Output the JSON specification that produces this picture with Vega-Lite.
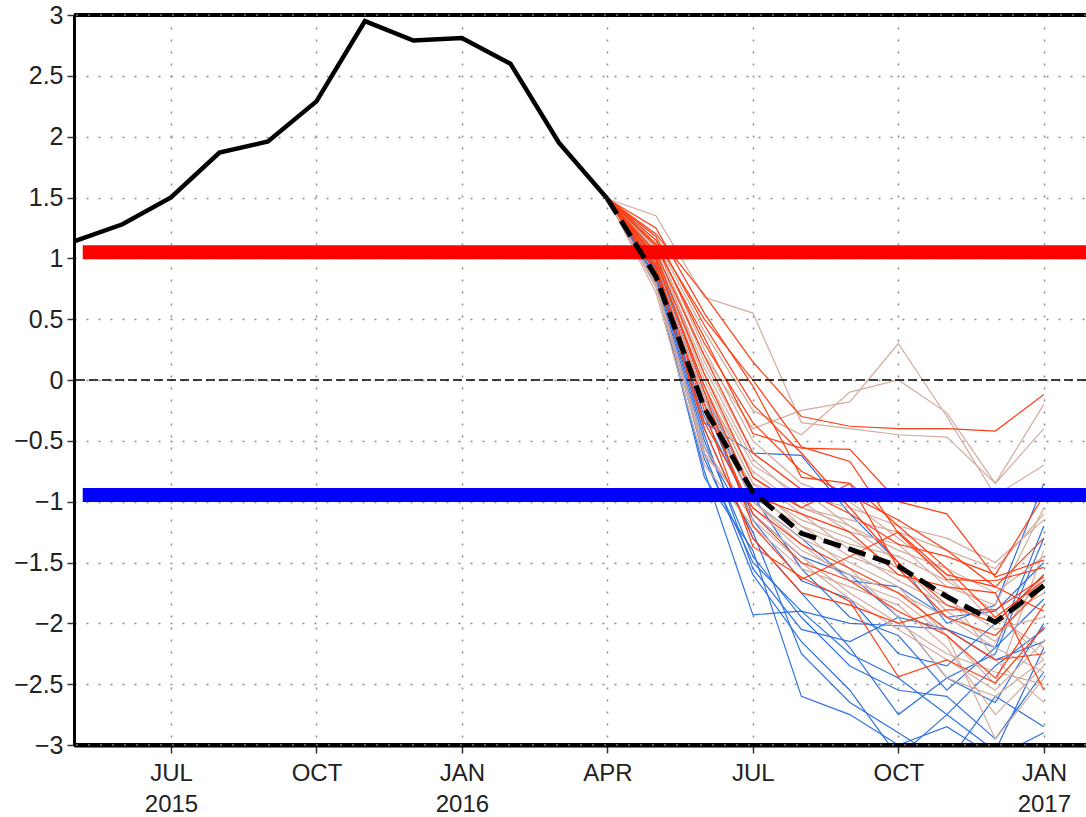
{
"$schema":"https://vega.github.io/schema/vega-lite/v6.json",
"width":1012,"height":730,
"autosize":"none",
"padding":{"left":74,"top":15,"right":0,"bottom":72},
"background":"white",
"config":{"view":{"stroke":null},"font":"Liberation Sans"},
"resolve":{"scale":{"color":"independent"}},
"datasets":{
"obs":[{"m":0,"v":1.14},{"m":1,"v":1.28},{"m":2,"v":1.5},{"m":3,"v":1.87},{"m":4,"v":1.96},{"m":5,"v":2.29},{"m":6,"v":2.95},{"m":7,"v":2.79},{"m":8,"v":2.81},{"m":9,"v":2.6},{"m":10,"v":1.95},{"m":11,"v":1.49}],
"mean":[{"m":11,"v":1.49},{"m":12,"v":0.85},{"m":13,"v":-0.23},{"m":14,"v":-0.92},{"m":15,"v":-1.26},{"m":16,"v":-1.39},{"m":17,"v":-1.53},{"m":18,"v":-1.78},{"m":19,"v":-1.99},{"m":20,"v":-1.69}],
"mem":[
{"id":"b1","g":"blue","m":11,"v":1.49},{"id":"b1","g":"blue","m":12,"v":0.8},{"id":"b1","g":"blue","m":13,"v":-0.75},{"id":"b1","g":"blue","m":14,"v":-1.93},{"id":"b1","g":"blue","m":15,"v":-1.9},{"id":"b1","g":"blue","m":16,"v":-2.0},{"id":"b1","g":"blue","m":17,"v":-2.02},{"id":"b1","g":"blue","m":18,"v":-2.05},{"id":"b1","g":"blue","m":19,"v":-2.3},{"id":"b1","g":"blue","m":20,"v":-2.15},
{"id":"b2","g":"blue","m":11,"v":1.49},{"id":"b2","g":"blue","m":12,"v":0.88},{"id":"b2","g":"blue","m":13,"v":-0.5},{"id":"b2","g":"blue","m":14,"v":-1.45},{"id":"b2","g":"blue","m":15,"v":-1.95},{"id":"b2","g":"blue","m":16,"v":-2.35},{"id":"b2","g":"blue","m":17,"v":-2.55},{"id":"b2","g":"blue","m":18,"v":-2.6},{"id":"b2","g":"blue","m":19,"v":-2.95},{"id":"b2","g":"blue","m":20,"v":-2.4},
{"id":"b3","g":"blue","m":11,"v":1.49},{"id":"b3","g":"blue","m":12,"v":0.95},{"id":"b3","g":"blue","m":13,"v":-0.4},{"id":"b3","g":"blue","m":14,"v":-1.3},{"id":"b3","g":"blue","m":15,"v":-1.75},{"id":"b3","g":"blue","m":16,"v":-2.2},{"id":"b3","g":"blue","m":17,"v":-2.75},{"id":"b3","g":"blue","m":18,"v":-2.45},{"id":"b3","g":"blue","m":19,"v":-2.25},{"id":"b3","g":"blue","m":20,"v":-1.3},
{"id":"b4","g":"blue","m":11,"v":1.49},{"id":"b4","g":"blue","m":12,"v":0.78},{"id":"b4","g":"blue","m":13,"v":-0.6},{"id":"b4","g":"blue","m":14,"v":-1.6},{"id":"b4","g":"blue","m":15,"v":-2.15},{"id":"b4","g":"blue","m":16,"v":-2.55},{"id":"b4","g":"blue","m":17,"v":-3.1},{"id":"b4","g":"blue","m":18,"v":-2.75},{"id":"b4","g":"blue","m":19,"v":-2.35},{"id":"b4","g":"blue","m":20,"v":-2.05},
{"id":"b5","g":"blue","m":11,"v":1.49},{"id":"b5","g":"blue","m":12,"v":0.92},{"id":"b5","g":"blue","m":13,"v":-0.3},{"id":"b5","g":"blue","m":14,"v":-1.1},{"id":"b5","g":"blue","m":15,"v":-1.45},{"id":"b5","g":"blue","m":16,"v":-1.6},{"id":"b5","g":"blue","m":17,"v":-1.95},{"id":"b5","g":"blue","m":18,"v":-2.05},{"id":"b5","g":"blue","m":19,"v":-2.2},{"id":"b5","g":"blue","m":20,"v":-1.8},
{"id":"b6","g":"blue","m":11,"v":1.49},{"id":"b6","g":"blue","m":12,"v":1.0},{"id":"b6","g":"blue","m":13,"v":-0.2},{"id":"b6","g":"blue","m":14,"v":-1.15},{"id":"b6","g":"blue","m":15,"v":-1.65},{"id":"b6","g":"blue","m":16,"v":-1.8},{"id":"b6","g":"blue","m":17,"v":-2.25},{"id":"b6","g":"blue","m":18,"v":-2.35},{"id":"b6","g":"blue","m":19,"v":-2.0},{"id":"b6","g":"blue","m":20,"v":-1.6},
{"id":"b7","g":"blue","m":11,"v":1.49},{"id":"b7","g":"blue","m":12,"v":0.85},{"id":"b7","g":"blue","m":13,"v":-0.55},{"id":"b7","g":"blue","m":14,"v":-1.25},{"id":"b7","g":"blue","m":15,"v":-2.25},{"id":"b7","g":"blue","m":16,"v":-2.65},{"id":"b7","g":"blue","m":17,"v":-2.9},{"id":"b7","g":"blue","m":18,"v":-3.15},{"id":"b7","g":"blue","m":19,"v":-2.6},{"id":"b7","g":"blue","m":20,"v":-2.85},
{"id":"b8","g":"blue","m":11,"v":1.49},{"id":"b8","g":"blue","m":12,"v":0.97},{"id":"b8","g":"blue","m":13,"v":-0.15},{"id":"b8","g":"blue","m":14,"v":-1.0},{"id":"b8","g":"blue","m":15,"v":-1.3},{"id":"b8","g":"blue","m":16,"v":-1.65},{"id":"b8","g":"blue","m":17,"v":-1.7},{"id":"b8","g":"blue","m":18,"v":-1.95},{"id":"b8","g":"blue","m":19,"v":-1.9},{"id":"b8","g":"blue","m":20,"v":-1.5},
{"id":"b9","g":"blue","m":11,"v":1.49},{"id":"b9","g":"blue","m":12,"v":0.83},{"id":"b9","g":"blue","m":13,"v":-0.65},{"id":"b9","g":"blue","m":14,"v":-1.5},{"id":"b9","g":"blue","m":15,"v":-1.9},{"id":"b9","g":"blue","m":16,"v":-2.25},{"id":"b9","g":"blue","m":17,"v":-2.45},{"id":"b9","g":"blue","m":18,"v":-2.75},{"id":"b9","g":"blue","m":19,"v":-3.05},{"id":"b9","g":"blue","m":20,"v":-2.2},
{"id":"b10","g":"blue","m":11,"v":1.49},{"id":"b10","g":"blue","m":12,"v":1.05},{"id":"b10","g":"blue","m":13,"v":-0.1},{"id":"b10","g":"blue","m":14,"v":-0.95},{"id":"b10","g":"blue","m":15,"v":-1.55},{"id":"b10","g":"blue","m":16,"v":-1.95},{"id":"b10","g":"blue","m":17,"v":-2.1},{"id":"b10","g":"blue","m":18,"v":-2.55},{"id":"b10","g":"blue","m":19,"v":-2.2},{"id":"b10","g":"blue","m":20,"v":-1.2},
{"id":"b11","g":"blue","m":11,"v":1.49},{"id":"b11","g":"blue","m":12,"v":0.9},{"id":"b11","g":"blue","m":13,"v":-0.45},{"id":"b11","g":"blue","m":14,"v":-1.55},{"id":"b11","g":"blue","m":15,"v":-2.05},{"id":"b11","g":"blue","m":16,"v":-2.15},{"id":"b11","g":"blue","m":17,"v":-1.95},{"id":"b11","g":"blue","m":18,"v":-2.45},{"id":"b11","g":"blue","m":19,"v":-2.65},{"id":"b11","g":"blue","m":20,"v":-2.0},
{"id":"b12","g":"blue","m":11,"v":1.49},{"id":"b12","g":"blue","m":12,"v":0.93},{"id":"b12","g":"blue","m":13,"v":-0.35},{"id":"b12","g":"blue","m":14,"v":-0.6},{"id":"b12","g":"blue","m":15,"v":-0.62},{"id":"b12","g":"blue","m":16,"v":-1.1},{"id":"b12","g":"blue","m":17,"v":-1.5},{"id":"b12","g":"blue","m":18,"v":-2.0},{"id":"b12","g":"blue","m":19,"v":-1.85},{"id":"b12","g":"blue","m":20,"v":-0.85},
{"id":"b13","g":"blue","m":11,"v":1.49},{"id":"b13","g":"blue","m":12,"v":0.8},{"id":"b13","g":"blue","m":13,"v":-0.8},{"id":"b13","g":"blue","m":14,"v":-1.4},{"id":"b13","g":"blue","m":15,"v":-2.6},{"id":"b13","g":"blue","m":16,"v":-2.75},{"id":"b13","g":"blue","m":17,"v":-3.0},{"id":"b13","g":"blue","m":18,"v":-2.85},{"id":"b13","g":"blue","m":19,"v":-3.1},{"id":"b13","g":"blue","m":20,"v":-2.9},
{"id":"t1","g":"tan","m":11,"v":1.49},{"id":"t1","g":"tan","m":12,"v":1.35},{"id":"t1","g":"tan","m":13,"v":0.68},{"id":"t1","g":"tan","m":14,"v":0.55},{"id":"t1","g":"tan","m":15,"v":-0.35},{"id":"t1","g":"tan","m":16,"v":-0.4},{"id":"t1","g":"tan","m":17,"v":-0.45},{"id":"t1","g":"tan","m":18,"v":-0.47},{"id":"t1","g":"tan","m":19,"v":-0.85},{"id":"t1","g":"tan","m":20,"v":-0.2},
{"id":"t2","g":"tan","m":11,"v":1.49},{"id":"t2","g":"tan","m":12,"v":1.1},{"id":"t2","g":"tan","m":13,"v":0.2},{"id":"t2","g":"tan","m":14,"v":-0.4},{"id":"t2","g":"tan","m":15,"v":-0.25},{"id":"t2","g":"tan","m":16,"v":-0.18},{"id":"t2","g":"tan","m":17,"v":0.3},{"id":"t2","g":"tan","m":18,"v":-0.3},{"id":"t2","g":"tan","m":19,"v":-0.95},{"id":"t2","g":"tan","m":20,"v":-0.7},
{"id":"t3","g":"tan","m":11,"v":1.49},{"id":"t3","g":"tan","m":12,"v":1.15},{"id":"t3","g":"tan","m":13,"v":0.4},{"id":"t3","g":"tan","m":14,"v":-0.25},{"id":"t3","g":"tan","m":15,"v":-0.45},{"id":"t3","g":"tan","m":16,"v":-0.1},{"id":"t3","g":"tan","m":17,"v":0.0},{"id":"t3","g":"tan","m":18,"v":-0.27},{"id":"t3","g":"tan","m":19,"v":-0.85},{"id":"t3","g":"tan","m":20,"v":-0.4},
{"id":"t4","g":"tan","m":11,"v":1.49},{"id":"t4","g":"tan","m":12,"v":1.0},{"id":"t4","g":"tan","m":13,"v":-0.05},{"id":"t4","g":"tan","m":14,"v":-0.85},{"id":"t4","g":"tan","m":15,"v":-1.05},{"id":"t4","g":"tan","m":16,"v":-1.15},{"id":"t4","g":"tan","m":17,"v":-1.25},{"id":"t4","g":"tan","m":18,"v":-1.4},{"id":"t4","g":"tan","m":19,"v":-1.55},{"id":"t4","g":"tan","m":20,"v":-1.1},
{"id":"t5","g":"tan","m":11,"v":1.49},{"id":"t5","g":"tan","m":12,"v":0.95},{"id":"t5","g":"tan","m":13,"v":-0.15},{"id":"t5","g":"tan","m":14,"v":-0.95},{"id":"t5","g":"tan","m":15,"v":-1.2},{"id":"t5","g":"tan","m":16,"v":-1.35},{"id":"t5","g":"tan","m":17,"v":-1.45},{"id":"t5","g":"tan","m":18,"v":-1.65},{"id":"t5","g":"tan","m":19,"v":-1.9},{"id":"t5","g":"tan","m":20,"v":-2.3},
{"id":"t6","g":"tan","m":11,"v":1.49},{"id":"t6","g":"tan","m":12,"v":0.76},{"id":"t6","g":"tan","m":13,"v":-0.62},{"id":"t6","g":"tan","m":14,"v":-1.05},{"id":"t6","g":"tan","m":15,"v":-1.4},{"id":"t6","g":"tan","m":16,"v":-1.6},{"id":"t6","g":"tan","m":17,"v":-1.75},{"id":"t6","g":"tan","m":18,"v":-1.95},{"id":"t6","g":"tan","m":19,"v":-2.2},{"id":"t6","g":"tan","m":20,"v":-2.4},
{"id":"t7","g":"tan","m":11,"v":1.49},{"id":"t7","g":"tan","m":12,"v":1.08},{"id":"t7","g":"tan","m":13,"v":0.05},{"id":"t7","g":"tan","m":14,"v":-0.7},{"id":"t7","g":"tan","m":15,"v":-0.95},{"id":"t7","g":"tan","m":16,"v":-1.05},{"id":"t7","g":"tan","m":17,"v":-1.2},{"id":"t7","g":"tan","m":18,"v":-1.3},{"id":"t7","g":"tan","m":19,"v":-1.5},{"id":"t7","g":"tan","m":20,"v":-1.15},
{"id":"t8","g":"tan","m":11,"v":1.49},{"id":"t8","g":"tan","m":12,"v":0.8},{"id":"t8","g":"tan","m":13,"v":-0.55},{"id":"t8","g":"tan","m":14,"v":-1.15},{"id":"t8","g":"tan","m":15,"v":-1.5},{"id":"t8","g":"tan","m":16,"v":-1.8},{"id":"t8","g":"tan","m":17,"v":-2.05},{"id":"t8","g":"tan","m":18,"v":-2.3},{"id":"t8","g":"tan","m":19,"v":-2.55},{"id":"t8","g":"tan","m":20,"v":-2.15},
{"id":"t9","g":"tan","m":11,"v":1.49},{"id":"t9","g":"tan","m":12,"v":1.02},{"id":"t9","g":"tan","m":13,"v":-0.1},{"id":"t9","g":"tan","m":14,"v":-0.9},{"id":"t9","g":"tan","m":15,"v":-1.15},{"id":"t9","g":"tan","m":16,"v":-1.3},{"id":"t9","g":"tan","m":17,"v":-1.55},{"id":"t9","g":"tan","m":18,"v":-1.8},{"id":"t9","g":"tan","m":19,"v":-2.05},{"id":"t9","g":"tan","m":20,"v":-1.95},
{"id":"t10","g":"tan","m":11,"v":1.49},{"id":"t10","g":"tan","m":12,"v":0.97},{"id":"t10","g":"tan","m":13,"v":-0.2},{"id":"t10","g":"tan","m":14,"v":-1.0},{"id":"t10","g":"tan","m":15,"v":-1.3},{"id":"t10","g":"tan","m":16,"v":-1.5},{"id":"t10","g":"tan","m":17,"v":-1.7},{"id":"t10","g":"tan","m":18,"v":-2.1},{"id":"t10","g":"tan","m":19,"v":-2.95},{"id":"t10","g":"tan","m":20,"v":-2.45},
{"id":"t11","g":"tan","m":11,"v":1.49},{"id":"t11","g":"tan","m":12,"v":1.12},{"id":"t11","g":"tan","m":13,"v":0.15},{"id":"t11","g":"tan","m":14,"v":-0.6},{"id":"t11","g":"tan","m":15,"v":-0.9},{"id":"t11","g":"tan","m":16,"v":-1.2},{"id":"t11","g":"tan","m":17,"v":-1.4},{"id":"t11","g":"tan","m":18,"v":-1.55},{"id":"t11","g":"tan","m":19,"v":-1.75},{"id":"t11","g":"tan","m":20,"v":-1.45},
{"id":"t12","g":"tan","m":11,"v":1.49},{"id":"t12","g":"tan","m":12,"v":0.72},{"id":"t12","g":"tan","m":13,"v":-0.7},{"id":"t12","g":"tan","m":14,"v":-1.2},{"id":"t12","g":"tan","m":15,"v":-1.55},{"id":"t12","g":"tan","m":16,"v":-1.7},{"id":"t12","g":"tan","m":17,"v":-1.85},{"id":"t12","g":"tan","m":18,"v":-2.2},{"id":"t12","g":"tan","m":19,"v":-2.75},{"id":"t12","g":"tan","m":20,"v":-2.35},
{"id":"t13","g":"tan","m":11,"v":1.49},{"id":"t13","g":"tan","m":12,"v":1.04},{"id":"t13","g":"tan","m":13,"v":0.0},{"id":"t13","g":"tan","m":14,"v":-0.8},{"id":"t13","g":"tan","m":15,"v":-1.1},{"id":"t13","g":"tan","m":16,"v":-1.4},{"id":"t13","g":"tan","m":17,"v":-1.65},{"id":"t13","g":"tan","m":18,"v":-1.85},{"id":"t13","g":"tan","m":19,"v":-1.95},{"id":"t13","g":"tan","m":20,"v":-2.2},
{"id":"t14","g":"tan","m":11,"v":1.49},{"id":"t14","g":"tan","m":12,"v":0.94},{"id":"t14","g":"tan","m":13,"v":-0.15},{"id":"t14","g":"tan","m":14,"v":-0.9},{"id":"t14","g":"tan","m":15,"v":-1.25},{"id":"t14","g":"tan","m":16,"v":-1.55},{"id":"t14","g":"tan","m":17,"v":-1.95},{"id":"t14","g":"tan","m":18,"v":-2.45},{"id":"t14","g":"tan","m":19,"v":-2.6},{"id":"t14","g":"tan","m":20,"v":-2.3},
{"id":"t15","g":"tan","m":11,"v":1.49},{"id":"t15","g":"tan","m":12,"v":1.06},{"id":"t15","g":"tan","m":13,"v":0.1},{"id":"t15","g":"tan","m":14,"v":-0.65},{"id":"t15","g":"tan","m":15,"v":-1.0},{"id":"t15","g":"tan","m":16,"v":-1.25},{"id":"t15","g":"tan","m":17,"v":-1.35},{"id":"t15","g":"tan","m":18,"v":-1.7},{"id":"t15","g":"tan","m":19,"v":-1.85},{"id":"t15","g":"tan","m":20,"v":-1.05},
{"id":"t16","g":"tan","m":11,"v":1.49},{"id":"t16","g":"tan","m":12,"v":0.99},{"id":"t16","g":"tan","m":13,"v":-0.05},{"id":"t16","g":"tan","m":14,"v":-0.85},{"id":"t16","g":"tan","m":15,"v":-1.2},{"id":"t16","g":"tan","m":16,"v":-1.45},{"id":"t16","g":"tan","m":17,"v":-1.6},{"id":"t16","g":"tan","m":18,"v":-1.75},{"id":"t16","g":"tan","m":19,"v":-2.3},{"id":"t16","g":"tan","m":20,"v":-2.65},
{"id":"t17","g":"tan","m":11,"v":1.49},{"id":"t17","g":"tan","m":12,"v":1.15},{"id":"t17","g":"tan","m":13,"v":0.25},{"id":"t17","g":"tan","m":14,"v":-0.5},{"id":"t17","g":"tan","m":15,"v":-0.85},{"id":"t17","g":"tan","m":16,"v":-1.0},{"id":"t17","g":"tan","m":17,"v":-1.3},{"id":"t17","g":"tan","m":18,"v":-1.6},{"id":"t17","g":"tan","m":19,"v":-2.0},{"id":"t17","g":"tan","m":20,"v":-1.75},
{"id":"t18","g":"tan","m":11,"v":1.49},{"id":"t18","g":"tan","m":12,"v":0.78},{"id":"t18","g":"tan","m":13,"v":-0.6},{"id":"t18","g":"tan","m":14,"v":-1.1},{"id":"t18","g":"tan","m":15,"v":-1.45},{"id":"t18","g":"tan","m":16,"v":-1.75},{"id":"t18","g":"tan","m":17,"v":-2.0},{"id":"t18","g":"tan","m":18,"v":-2.25},{"id":"t18","g":"tan","m":19,"v":-2.4},{"id":"t18","g":"tan","m":20,"v":-2.5},
{"id":"t19","g":"tan","m":11,"v":1.49},{"id":"t19","g":"tan","m":12,"v":1.01},{"id":"t19","g":"tan","m":13,"v":-0.1},{"id":"t19","g":"tan","m":14,"v":-0.75},{"id":"t19","g":"tan","m":15,"v":-1.05},{"id":"t19","g":"tan","m":16,"v":-1.2},{"id":"t19","g":"tan","m":17,"v":-1.5},{"id":"t19","g":"tan","m":18,"v":-1.9},{"id":"t19","g":"tan","m":19,"v":-2.15},{"id":"t19","g":"tan","m":20,"v":-1.6},
{"id":"t20","g":"tan","m":11,"v":1.49},{"id":"t20","g":"tan","m":12,"v":0.96},{"id":"t20","g":"tan","m":13,"v":-0.2},{"id":"t20","g":"tan","m":14,"v":-1.0},{"id":"t20","g":"tan","m":15,"v":-1.35},{"id":"t20","g":"tan","m":16,"v":-1.65},{"id":"t20","g":"tan","m":17,"v":-1.8},{"id":"t20","g":"tan","m":18,"v":-2.1},{"id":"t20","g":"tan","m":19,"v":-2.5},{"id":"t20","g":"tan","m":20,"v":-1.4},
{"id":"r1","g":"red","m":11,"v":1.49},{"id":"r1","g":"red","m":12,"v":1.2},{"id":"r1","g":"red","m":13,"v":0.7},{"id":"r1","g":"red","m":14,"v":0.15},{"id":"r1","g":"red","m":15,"v":-0.3},{"id":"r1","g":"red","m":16,"v":-0.38},{"id":"r1","g":"red","m":17,"v":-0.4},{"id":"r1","g":"red","m":18,"v":-0.4},{"id":"r1","g":"red","m":19,"v":-0.42},{"id":"r1","g":"red","m":20,"v":-0.12},
{"id":"r2","g":"red","m":11,"v":1.49},{"id":"r2","g":"red","m":12,"v":1.1},{"id":"r2","g":"red","m":13,"v":0.35},{"id":"r2","g":"red","m":14,"v":-0.44},{"id":"r2","g":"red","m":15,"v":-0.56},{"id":"r2","g":"red","m":16,"v":-0.57},{"id":"r2","g":"red","m":17,"v":-1.0},{"id":"r2","g":"red","m":18,"v":-1.1},{"id":"r2","g":"red","m":19,"v":-1.62},{"id":"r2","g":"red","m":20,"v":-1.48},
{"id":"r3","g":"red","m":11,"v":1.49},{"id":"r3","g":"red","m":12,"v":1.15},{"id":"r3","g":"red","m":13,"v":0.5},{"id":"r3","g":"red","m":14,"v":0.0},{"id":"r3","g":"red","m":15,"v":-0.55},{"id":"r3","g":"red","m":16,"v":-0.67},{"id":"r3","g":"red","m":17,"v":-1.26},{"id":"r3","g":"red","m":18,"v":-1.64},{"id":"r3","g":"red","m":19,"v":-1.65},{"id":"r3","g":"red","m":20,"v":-1.54},
{"id":"r4","g":"red","m":11,"v":1.49},{"id":"r4","g":"red","m":12,"v":0.95},{"id":"r4","g":"red","m":13,"v":-0.25},{"id":"r4","g":"red","m":14,"v":-1.37},{"id":"r4","g":"red","m":15,"v":-1.62},{"id":"r4","g":"red","m":16,"v":-1.82},{"id":"r4","g":"red","m":17,"v":-2.44},{"id":"r4","g":"red","m":18,"v":-2.3},{"id":"r4","g":"red","m":19,"v":-2.49},{"id":"r4","g":"red","m":20,"v":-2.03},
{"id":"r5","g":"red","m":11,"v":1.49},{"id":"r5","g":"red","m":12,"v":1.0},{"id":"r5","g":"red","m":13,"v":-0.1},{"id":"r5","g":"red","m":14,"v":-1.2},{"id":"r5","g":"red","m":15,"v":-1.64},{"id":"r5","g":"red","m":16,"v":-1.45},{"id":"r5","g":"red","m":17,"v":-1.25},{"id":"r5","g":"red","m":18,"v":-1.6},{"id":"r5","g":"red","m":19,"v":-1.7},{"id":"r5","g":"red","m":20,"v":-1.9},
{"id":"r6","g":"red","m":11,"v":1.49},{"id":"r6","g":"red","m":12,"v":0.9},{"id":"r6","g":"red","m":13,"v":-0.4},{"id":"r6","g":"red","m":14,"v":-1.3},{"id":"r6","g":"red","m":15,"v":-1.75},{"id":"r6","g":"red","m":16,"v":-1.85},{"id":"r6","g":"red","m":17,"v":-2.0},{"id":"r6","g":"red","m":18,"v":-1.89},{"id":"r6","g":"red","m":19,"v":-1.89},{"id":"r6","g":"red","m":20,"v":-1.62},
{"id":"r7","g":"red","m":11,"v":1.49},{"id":"r7","g":"red","m":12,"v":1.25},{"id":"r7","g":"red","m":13,"v":0.55},{"id":"r7","g":"red","m":14,"v":-0.05},{"id":"r7","g":"red","m":15,"v":-0.8},{"id":"r7","g":"red","m":16,"v":-0.85},{"id":"r7","g":"red","m":17,"v":-1.2},{"id":"r7","g":"red","m":18,"v":-1.55},{"id":"r7","g":"red","m":19,"v":-1.95},{"id":"r7","g":"red","m":20,"v":-1.65},
{"id":"r8","g":"red","m":11,"v":1.49},{"id":"r8","g":"red","m":12,"v":1.05},{"id":"r8","g":"red","m":13,"v":0.2},{"id":"r8","g":"red","m":14,"v":-0.6},{"id":"r8","g":"red","m":15,"v":-0.9},{"id":"r8","g":"red","m":16,"v":-1.1},{"id":"r8","g":"red","m":17,"v":-1.35},{"id":"r8","g":"red","m":18,"v":-1.45},{"id":"r8","g":"red","m":19,"v":-1.6},{"id":"r8","g":"red","m":20,"v":-0.95},
{"id":"r9","g":"red","m":11,"v":1.49},{"id":"r9","g":"red","m":12,"v":0.98},{"id":"r9","g":"red","m":13,"v":-0.05},{"id":"r9","g":"red","m":14,"v":-0.95},{"id":"r9","g":"red","m":15,"v":-1.1},{"id":"r9","g":"red","m":16,"v":-1.25},{"id":"r9","g":"red","m":17,"v":-1.6},{"id":"r9","g":"red","m":18,"v":-1.7},{"id":"r9","g":"red","m":19,"v":-1.75},{"id":"r9","g":"red","m":20,"v":-2.55},
{"id":"r10","g":"red","m":11,"v":1.49},{"id":"r10","g":"red","m":12,"v":1.12},{"id":"r10","g":"red","m":13,"v":0.3},{"id":"r10","g":"red","m":14,"v":-0.35},{"id":"r10","g":"red","m":15,"v":-0.75},{"id":"r10","g":"red","m":16,"v":-0.95},{"id":"r10","g":"red","m":17,"v":-1.15},{"id":"r10","g":"red","m":18,"v":-1.4},{"id":"r10","g":"red","m":19,"v":-1.7},{"id":"r10","g":"red","m":20,"v":-1.3},
{"id":"r11","g":"red","m":11,"v":1.49},{"id":"r11","g":"red","m":12,"v":0.88},{"id":"r11","g":"red","m":13,"v":-0.35},{"id":"r11","g":"red","m":14,"v":-1.05},{"id":"r11","g":"red","m":15,"v":-1.35},{"id":"r11","g":"red","m":16,"v":-1.55},{"id":"r11","g":"red","m":17,"v":-1.75},{"id":"r11","g":"red","m":18,"v":-2.05},{"id":"r11","g":"red","m":19,"v":-2.3},{"id":"r11","g":"red","m":20,"v":-2.25},
{"id":"r12","g":"red","m":11,"v":1.49},{"id":"r12","g":"red","m":12,"v":1.18},{"id":"r12","g":"red","m":13,"v":0.45},{"id":"r12","g":"red","m":14,"v":-0.2},{"id":"r12","g":"red","m":15,"v":-0.6},{"id":"r12","g":"red","m":16,"v":-1.05},{"id":"r12","g":"red","m":17,"v":-1.5},{"id":"r12","g":"red","m":18,"v":-1.85},{"id":"r12","g":"red","m":19,"v":-2.0},{"id":"r12","g":"red","m":20,"v":-1.6},
{"id":"r13","g":"red","m":11,"v":1.49},{"id":"r13","g":"red","m":12,"v":1.02},{"id":"r13","g":"red","m":13,"v":0.05},{"id":"r13","g":"red","m":14,"v":-0.8},{"id":"r13","g":"red","m":15,"v":-1.05},{"id":"r13","g":"red","m":16,"v":-0.85},{"id":"r13","g":"red","m":17,"v":-1.55},{"id":"r13","g":"red","m":18,"v":-1.95},{"id":"r13","g":"red","m":19,"v":-2.1},{"id":"r13","g":"red","m":20,"v":-1.7},
{"id":"r14","g":"red","m":11,"v":1.49},{"id":"r14","g":"red","m":12,"v":0.93},{"id":"r14","g":"red","m":13,"v":-0.2},{"id":"r14","g":"red","m":14,"v":-1.1},{"id":"r14","g":"red","m":15,"v":-1.5},{"id":"r14","g":"red","m":16,"v":-1.65},{"id":"r14","g":"red","m":17,"v":-1.9},{"id":"r14","g":"red","m":18,"v":-2.1},{"id":"r14","g":"red","m":19,"v":-2.45},{"id":"r14","g":"red","m":20,"v":-1.85}
],
"bands":[{"v":1.05,"c":"upper"},{"v":-0.945,"c":"lower"}],
"zero":[{"v":0}],
"edges":[{"v":3},{"v":-3}]
},
"encoding":{
"x":{"type":"quantitative","scale":{"domain":[0,20.87],"nice":false,"zero":false}},
"y":{"type":"quantitative","scale":{"domain":[-3,3],"nice":false}}
},
"layer":[
{"data":{"name":"mem"},"mark":{"type":"line","strokeWidth":1.2,"clip":true,"interpolate":"linear"},
"encoding":{
"x":{"field":"m","type":"quantitative","title":null,
"axis":{"values":[2,5,8,11,14,17,20],"labelExpr":"datum.value==2?['JUL','2015']:datum.value==5?'OCT':datum.value==8?['JAN','2016']:datum.value==11?'APR':datum.value==14?'JUL':datum.value==17?'OCT':['JAN','2017']",
"labelFont":"Liberation Sans","labelFontSize":24,"labelColor":"#222","labelLineHeight":31,"labelPadding":8,"labelBaseline":"top",
"domainColor":"black","domainWidth":4,"tickColor":"#333","tickSize":8,"tickWidth":1.5,
"grid":true,"gridColor":"#888","gridDash":[2,10],"gridWidth":1.5}},
"y":{"field":"v","type":"quantitative","title":null,
"axis":{"values":[-3,-2.5,-2,-1.5,-1,-0.5,0,0.5,1,1.5,2,2.5,3],"labelExpr":"replace(toString(datum.value),'-','\u2212')",
"labelFont":"Liberation Sans","labelFontSize":25,"labelColor":"#222","labelPadding":4,
"domainColor":"black","domainWidth":3,"tickColor":"#333","tickSize":7,"tickWidth":1.5,
"grid":true,"gridColor":"#888","gridDash":[2,10],"gridWidth":1.5}},
"color":{"field":"g","type":"nominal","legend":null,"scale":{"domain":["blue","tan","red"],"range":["#2f72e0","#d4ab9e","#ff3d12"]}},
"detail":{"field":"id"}
}},
{"data":{"name":"zero"},"mark":{"type":"rule","color":"black","strokeWidth":1.5,"strokeDash":[9,4]},"encoding":{"y":{"field":"v","type":"quantitative"}}},
{"data":{"name":"bands"},"mark":{"type":"rule","strokeWidth":14},
"encoding":{"y":{"field":"v","type":"quantitative"},"x":{"datum":0.18},"x2":{"datum":20.87},
"color":{"field":"c","type":"nominal","legend":null,"scale":{"domain":["upper","lower"],"range":["#ff0000","#0000ff"]}}}},
{"data":{"name":"obs"},"mark":{"type":"line","color":"black","strokeWidth":4.5,"strokeJoin":"miter"},
"encoding":{"x":{"field":"m","type":"quantitative"},"y":{"field":"v","type":"quantitative"}}},
{"data":{"name":"mean"},"mark":{"type":"line","color":"black","strokeWidth":5,"strokeDash":[18,8]},
"encoding":{"x":{"field":"m","type":"quantitative"},"y":{"field":"v","type":"quantitative"}}},
{"data":{"name":"edges"},"mark":{"type":"rule","color":"black","strokeWidth":4},"encoding":{"y":{"field":"v","type":"quantitative"}}},
{"data":{"name":"edges"},"mark":{"type":"rule","color":"#aaa","strokeWidth":1.2,"strokeDash":[2,10]},"encoding":{"y":{"field":"v","type":"quantitative"}}}
]
}
